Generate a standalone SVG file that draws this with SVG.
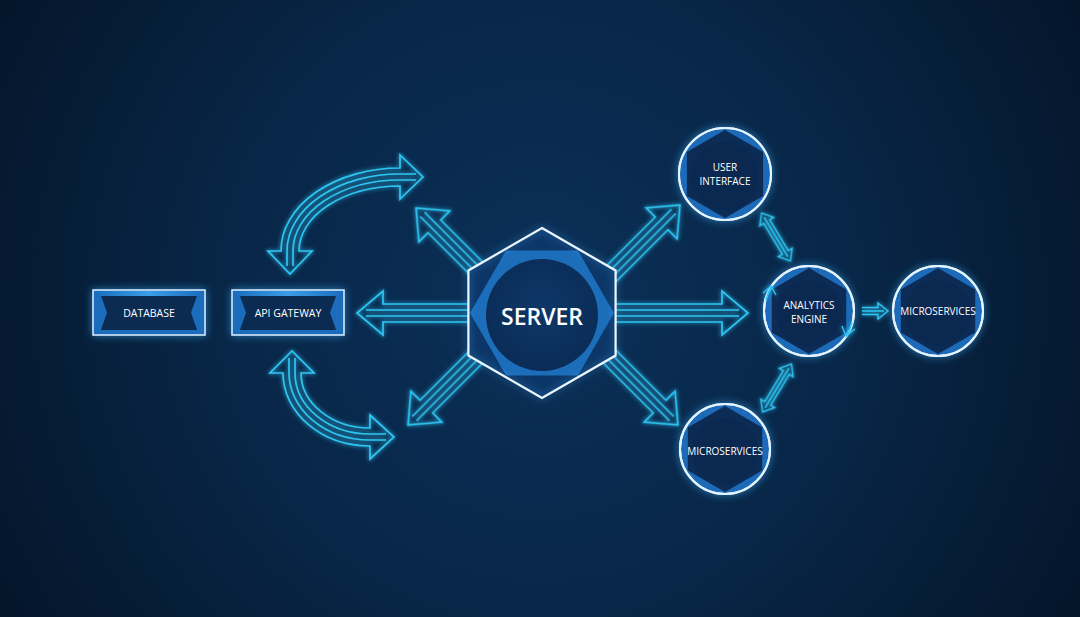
<svg xmlns="http://www.w3.org/2000/svg" width="1080" height="617" viewBox="0 0 1080 617">
<defs>
<radialGradient id="bg" cx="540" cy="300" r="640" gradientUnits="userSpaceOnUse">
<stop offset="0" stop-color="#0b3059"/>
<stop offset="0.5" stop-color="#082647"/>
<stop offset="1" stop-color="#041428"/>
</radialGradient>
<radialGradient id="core" cx="0.5" cy="0.45" r="0.6">
<stop offset="0" stop-color="#0e3869"/>
<stop offset="1" stop-color="#0a2b55"/>
</radialGradient>
<linearGradient id="boxTop" x1="0" y1="0" x2="1" y2="0">
<stop offset="0" stop-color="#1a6cbc"/>
<stop offset="0.5" stop-color="#3a9ee8"/>
<stop offset="1" stop-color="#1a6cbc"/>
</linearGradient>
<filter id="glow" x="-30%" y="-30%" width="160%" height="160%">
<feGaussianBlur in="SourceGraphic" stdDeviation="2" result="b"/>
<feMerge><feMergeNode in="b"/><feMergeNode in="SourceGraphic"/></feMerge>
</filter>
<filter id="glowW" x="-30%" y="-30%" width="160%" height="160%">
<feGaussianBlur in="SourceAlpha" stdDeviation="4" result="a"/>
<feFlood flood-color="#3cb6ff" flood-opacity="0.6"/>
<feComposite operator="in" in2="a" result="g"/>
<feMerge><feMergeNode in="g"/><feMergeNode in="SourceGraphic"/></feMerge>
</filter>
<clipPath id="hexClip"><polygon points="542,228 615.6,270.5 615.6,355.5 542,398 468.4,355.5 468.4,270.5"/></clipPath>
</defs>
<style>
.arr{fill:none;stroke:#2ec5f2;stroke-width:1.7;stroke-linejoin:miter;filter:url(#glow)}
.sm{fill:none;stroke:#2ec5f2;stroke-width:1.4;filter:url(#glow)}
.lbl{font-family:"Open Sans","Liberation Sans",sans-serif;fill:#ffffff;text-anchor:middle;dominant-baseline:central}
.ring{fill:#1a6ab8;stroke:#e4f4ff;stroke-width:2}
.inhex{fill:#0c2c55}
.incir{fill:#0a2850}
.box{fill:#1a6cbc;stroke:#dcefff;stroke-width:1.5}
.boxin{fill:#0b2b52}
</style>
<rect width="1080" height="617" fill="url(#bg)"/>

<g id="connectors">
<g class="arr" transform="translate(357,313) rotate(180)"><path d="M-118,-9 L-26,-9 L-26,-22 L0,0 L-26,22 L-26,9 L-118,9 M-118,-3 L-9,-3 M-118,3 L-9,3"/></g>
<g class="arr" transform="translate(748,313)"><path d="M-140,-9 L-26,-9 L-26,-22 L0,0 L-26,22 L-26,9 L-140,9 M-140,-3 L-9,-3 M-140,3 L-9,3"/></g>
<g class="arr" transform="translate(416,208) rotate(-135)"><path d="M-105,-9 L-26,-9 L-26,-22 L0,0 L-26,22 L-26,9 L-105,9 M-105,-3 L-9,-3 M-105,3 L-9,3"/></g>
<g class="arr" transform="translate(680,205) rotate(-45)"><path d="M-113,-9 L-26,-9 L-26,-22 L0,0 L-26,22 L-26,9 L-113,9 M-113,-3 L-9,-3 M-113,3 L-9,3"/></g>
<g class="arr" transform="translate(678,425) rotate(45)"><path d="M-110,-9 L-26,-9 L-26,-22 L0,0 L-26,22 L-26,9 L-110,9 M-110,-3 L-9,-3 M-110,3 L-9,3"/></g>
<g class="arr" transform="translate(408,425) rotate(135)"><path d="M-107,-9 L-26,-9 L-26,-22 L0,0 L-26,22 L-26,9 L-107,9 M-107,-3 L-9,-3 M-107,3 L-9,3"/></g>
<g class="arr">
<path d="M400,168 A119,83 0 0 0 281,251 L268,251 L290,274 L312,251 L299,251 A101,65 0 0 1 400,186 L400,199 L423,177 L400,155 Z"/>
<path d="M416,174 L400,174 A113,77 0 0 0 287,251 L287,266"/>
<path d="M416,180 L400,180 A107,71 0 0 0 293,251 L293,266"/>
</g>
<g class="arr">
<path d="M283,373 A87,73 0 0 0 370,446 L370,459 L394,437 L370,415 L370,428 A69,55 0 0 1 301,373 L314,373 L292,351 L270,373 Z"/>
<path d="M289,358 L289,373 A81,67 0 0 0 370,440 L386,440"/>
<path d="M295,358 L295,373 A75,61 0 0 0 370,434 L386,434"/>
</g>
<g class="sm" transform="translate(776,237) rotate(59)"><path d="M-18,-3.5 L18,-3.5 L18,-8 L28,0 L18,8 L18,3.5 L-18,3.5 L-18,8 L-28,0 L-18,-8 Z M-23,0 L23,0"/></g>
<g class="sm" transform="translate(777,388) rotate(121)"><path d="M-18,-3.5 L18,-3.5 L18,-8 L28,0 L18,8 L18,3.5 L-18,3.5 L-18,8 L-28,0 L-18,-8 Z M-23,0 L23,0"/></g>
<path class="sm" d="M862,307.5 L878,307.5 L878,303 L888,311 L878,319 L878,314.5 L862,314.5 M862,311 L884,311"/>
</g>

<g id="server">
<polygon points="542,228 615.6,270.5 615.6,355.5 542,398 468.4,355.5 468.4,270.5" fill="#0d3668"/>
<g clip-path="url(#hexClip)">
<polygon points="614,313 578,375.4 506,375.4 470,313 506,250.6 578,250.6" fill="#1c6dba"/>
</g>
<circle cx="542" cy="315" r="56" fill="url(#core)"/>
<polygon points="542,228 615.6,270.5 615.6,355.5 542,398 468.4,355.5 468.4,270.5" fill="none" stroke="#eaf7ff" stroke-width="2.2" filter="url(#glowW)"/>
<text class="lbl" x="542" y="316" font-size="23" font-weight="600">SERVER</text>
</g>

<g id="database">
<rect class="box" x="93" y="290" width="112" height="45" filter="url(#glowW)"/>
<rect x="94" y="291" width="110" height="5" fill="url(#boxTop)"/>
<polygon class="boxin" points="101,296 197,296 191,312.5 197,330 101,330 107,312.5"/>
<text class="lbl" x="149" y="313" font-size="10.5">DATABASE</text>
</g>

<g id="apigateway">
<rect class="box" x="232" y="290" width="112" height="45" filter="url(#glowW)"/>
<rect x="233" y="291" width="110" height="5" fill="url(#boxTop)"/>
<polygon class="boxin" points="240,296 336,296 330,312.5 336,330 240,330 246,312.5"/>
<text class="lbl" x="288" y="313" font-size="10.5">API GATEWAY</text>
</g>

<g id="userinterface">
<circle class="ring" cx="725" cy="174" r="46" filter="url(#glowW)"/>
<polygon class="inhex" points="725,130 763.1,152 763.1,196 725,218 686.9,196 686.9,152"/>
<circle class="incir" cx="725" cy="176" r="34"/>
<circle cx="725" cy="174" r="46" fill="none" stroke="#e4f4ff" stroke-width="2"/>
<text class="lbl" x="725" y="167" font-size="10">USER</text>
<text class="lbl" x="725" y="181" font-size="10">INTERFACE</text>
</g>

<g id="analytics">
<circle class="ring" cx="809" cy="311" r="45" filter="url(#glowW)"/>
<polygon class="inhex" points="809,268 846.2,289.5 846.2,332.5 809,354 771.8,332.5 771.8,289.5"/>
<circle class="incir" cx="809" cy="313" r="33"/>
<circle cx="809" cy="311" r="45" fill="none" stroke="#e4f4ff" stroke-width="2"/>
<path class="sm" d="M766,300 A45,45 0 0 1 772,286 M763,293 L771,286 L776,295"/>
<path class="sm" d="M852,322 A45,45 0 0 1 846,336 M855,329 L846,336 L842,326"/>
<text class="lbl" x="809" y="305" font-size="10">ANALYTICS</text>
<text class="lbl" x="809" y="319" font-size="10">ENGINE</text>
</g>

<g id="microservices-right">
<circle class="ring" cx="938" cy="311" r="45" filter="url(#glowW)"/>
<polygon class="inhex" points="938,268 975.2,289.5 975.2,332.5 938,354 900.8,332.5 900.8,289.5"/>
<circle class="incir" cx="938" cy="313" r="33"/>
<circle cx="938" cy="311" r="45" fill="none" stroke="#e4f4ff" stroke-width="2"/>
<text class="lbl" x="938" y="311" font-size="10">MICROSERVICES</text>
</g>

<g id="microservices-bottom">
<circle class="ring" cx="725" cy="449" r="45" filter="url(#glowW)"/>
<polygon class="inhex" points="725,406 762.2,427.5 762.2,470.5 725,492 687.8,470.5 687.8,427.5"/>
<circle class="incir" cx="725" cy="451" r="33"/>
<circle cx="725" cy="449" r="45" fill="none" stroke="#e4f4ff" stroke-width="2"/>
<text class="lbl" x="725" y="451" font-size="10">MICROSERVICES</text>
</g>
</svg>
